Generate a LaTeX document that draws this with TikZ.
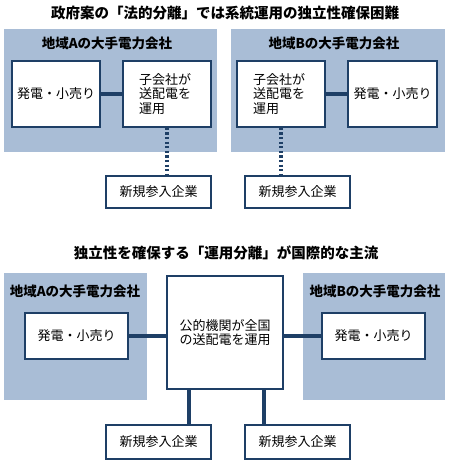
\documentclass[tikz,border=0pt]{standalone}
\usepackage{fontspec}
\setmainfont{Noto Sans CJK JP}
\usetikzlibrary{positioning}
\definecolor{panelblue}{HTML}{A9BDD6}
\definecolor{navy}{HTML}{1E3F66}
\tikzset{
  panel/.style={fill=panelblue, draw=none, inner sep=0pt, anchor=north west},
  boxw/.style={draw=navy, line width=1.6pt, fill=white, inner sep=0pt, font=\fontsize{13}{14.5}\selectfont, align=center},
  ptitle/.style={font=\fontsize{13.5}{16}\selectfont\bfseries, inner sep=0pt},
  mtitle/.style={font=\fontsize{14.5}{16}\selectfont\bfseries, inner sep=0pt},
  link/.style={draw=navy, line width=3.8pt},
  dlink/.style={draw=navy, line width=3.8pt, dash pattern=on 2.3pt off 2.3pt},
}
\begin{document}
\begin{tikzpicture}[x=1pt,y=-1pt]
\fill[white] (0,0) rectangle (449,462);
\useasboundingbox (0,0) rectangle (449,462);
% ---------- top ----------
\node[mtitle] (t1) at (225,13) {政府案の「法的分離」では系統運用の独立性確保困難};
\fill[panelblue] (4,29) rectangle (217,152);
\fill[panelblue] (231,29) rectangle (445,152);
\node[ptitle] (ta) at (107,43) {地域Aの大手電力会社};
\node[ptitle] (tb) at (334,43) {地域Bの大手電力会社};
\node[boxw, minimum width=88pt, minimum height=66pt] (genA) at (56,94) {発電・小売り};
\node[boxw, minimum width=88pt, minimum height=66pt, text width=56pt, align=left] (subA) at (167,94) {子会社が\\送配電を\\運用};
\node[boxw, minimum width=88pt, minimum height=66pt, text width=56pt, align=left] (subB) at (281,94) {子会社が\\送配電を\\運用};
\node[boxw, minimum width=89pt, minimum height=66pt] (genB) at (392.5,94) {発電・小売り};
\node[boxw, minimum width=105pt, minimum height=32pt] (newA1) at (158.5,192) {新規参入企業};
\node[boxw, minimum width=105pt, minimum height=32pt] (newB1) at (297.5,192) {新規参入企業};
\draw[link] (genA) -- (subA);
\draw[link] (subB) -- (genB);
\draw[dlink] (subA.south) -- (subA.south |- newA1.north);
\draw[dlink] (subB.south) -- (subB.south |- newB1.north);
% ---------- bottom ----------
\node[mtitle] (t2) at (226,253) {独立性を確保する「運用分離」が国際的な主流};
\fill[panelblue] (4,273) rectangle (147,400);
\fill[panelblue] (303,273) rectangle (445,400);
\node[ptitle] (ta2) at (75,291) {地域Aの大手電力会社};
\node[ptitle] (tb2) at (375,291) {地域Bの大手電力会社};
\node[boxw, minimum width=116pt, minimum height=113pt, font=\fontsize{13}{14}\selectfont] (ctr) at (225,332.5) {公的機関が全国\\の送配電を運用};
\node[boxw, minimum width=103pt, minimum height=46pt] (genA2) at (76.5,336) {発電・小売り};
\node[boxw, minimum width=103pt, minimum height=46pt] (genB2) at (373.5,336) {発電・小売り};
\node[boxw, minimum width=105pt, minimum height=34pt] (newA2) at (158.5,442) {新規参入企業};
\node[boxw, minimum width=105pt, minimum height=34pt] (newB2) at (297.5,442) {新規参入企業};
\draw[link] (genA2) -- (ctr.west |- genA2);
\draw[link] (ctr.east |- genB2) -- (genB2);
\coordinate (c1) at (189,389);
\coordinate (c2) at (264,389);
\draw[link] (c1) -- (c1 |- newA2.north);
\draw[link] (c2) -- (c2 |- newB2.north);
\end{tikzpicture}
\end{document}
